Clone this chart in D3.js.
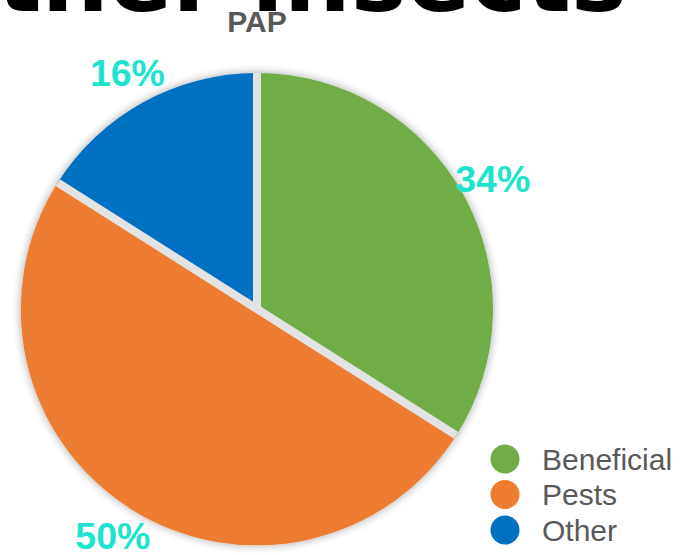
<!DOCTYPE html>
<html>
<head>
<meta charset="utf-8">
<script src="https://cdn.jsdelivr.net/npm/d3@7"></script>
<style>
  html, body { margin: 0; padding: 0; background: #fff; overflow: hidden; }
  svg { display: block; }
</style>
</head>
<body>
<script>
// Share of insects caught on the PAP plot
const categories = ["Beneficial", "Pests", "Other"];
const values = [34, 50, 16];
const colors = ["#70ad47", "#ed7d31", "#0070c0"];
const pctLabels = ["34%", "50%", "16%"];
const chartTitle = "PAP";
const pageHeading = "Other insects";

const W = 685, H = 555;
const cx = 257, cy = 309, R = 236;

const svg = d3.select("body").append("svg")
  .attr("width", W).attr("height", H);

const defs = svg.append("defs");
const shadow = defs.append("filter").attr("id", "pieShadow")
  .attr("x", "-20%").attr("y", "-20%").attr("width", "140%").attr("height", "140%");
shadow.append("feGaussianBlur").attr("in", "SourceAlpha").attr("stdDeviation", 5).attr("result", "blur");
shadow.append("feComponentTransfer").attr("in", "blur").attr("result", "soft")
  .append("feFuncA").attr("type", "linear").attr("slope", 0.35);
const merge = shadow.append("feMerge");
merge.append("feMergeNode").attr("in", "soft");
merge.append("feMergeNode").attr("in", "SourceGraphic");

defs.append("clipPath").attr("id", "pieClip")
  .append("circle").attr("r", R);

// Large slide heading running off the top edge
svg.append("text")
  .attr("x", 627).attr("y", 11)
  .attr("text-anchor", "end")
  .attr("font-family", "'DejaVu Sans', sans-serif")
  .attr("font-weight", "bold")
  .attr("font-size", 94)
  .attr("fill", "#000")
  .text(pageHeading);

svg.append("text")
  .attr("x", cx).attr("y", 32)
  .attr("text-anchor", "middle")
  .attr("font-family", "'Liberation Sans', Arial, sans-serif")
  .attr("font-weight", "bold")
  .attr("font-size", 30)
  .attr("fill", "#595959")
  .text(chartTitle);

const g = svg.append("g").attr("transform", `translate(${cx},${cy})`);

const pie = d3.pie().sort(null).value(d => d)(values);
const arc = d3.arc().innerRadius(0).outerRadius(R);

// Slices, grouped so the whole disc casts one soft shadow
const disc = g.append("g").attr("filter", "url(#pieShadow)");
disc.selectAll("path.slice").data(pie).join("path")
  .attr("class", "slice")
  .attr("d", arc)
  .attr("fill", (d, i) => colors[i]);

// Light separator strips of constant width along each slice boundary
const gap = 8;
disc.append("g").attr("clip-path", "url(#pieClip)")
  .selectAll("line").data(pie).join("line")
  .attr("x1", 0).attr("y1", 0)
  .attr("x2", d => R * Math.sin(d.startAngle))
  .attr("y2", d => -R * Math.cos(d.startAngle))
  .attr("stroke", "#e3e3e3")
  .attr("stroke-width", gap);

const labelArc = d3.arc().innerRadius(269).outerRadius(269);
g.selectAll("text.pct").data(pie).join("text")
  .attr("class", "pct")
  .attr("transform", d => `translate(${labelArc.centroid(d)})`)
  .attr("text-anchor", "middle")
  .attr("dominant-baseline", "central")
  .attr("font-family", "'Liberation Sans', Arial, sans-serif")
  .attr("font-weight", "bold")
  .attr("font-size", 37.5)
  .attr("fill", "#1fe3cf")
  .text((d, i) => pctLabels[i]);

// Legend
const legend = svg.append("g").attr("transform", "translate(505,459)");
const item = legend.selectAll("g").data(categories).join("g")
  .attr("transform", (d, i) => `translate(0,${i * 35.5})`);
item.append("circle").attr("r", 14.5).attr("fill", (d, i) => colors[i]);
item.append("text")
  .attr("x", 37).attr("y", 0)
  .attr("dominant-baseline", "central")
  .attr("font-family", "'Liberation Sans', Arial, sans-serif")
  .attr("font-size", 30)
  .attr("fill", "#595959")
  .text(d => d);
</script>
</body>
</html>
